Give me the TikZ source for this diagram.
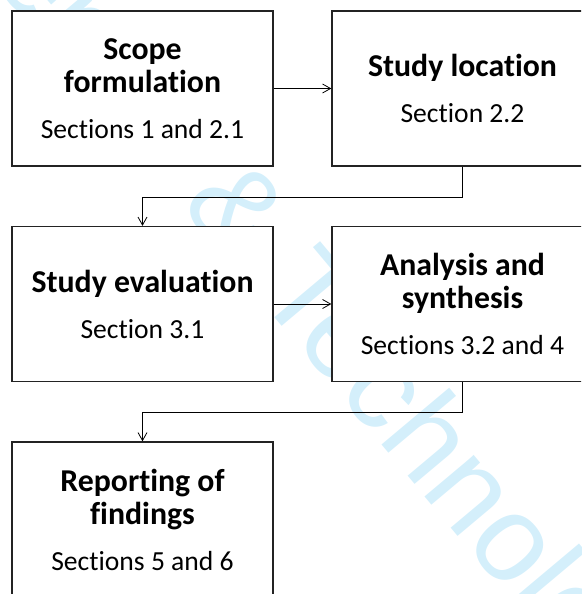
\documentclass[tikz,border=0pt]{standalone}
\usepackage{fontspec}
\setmainfont{Carlito}[Ligatures=NoCommon]
\newfontfamily\wmfont{Liberation Sans}
\usetikzlibrary{arrows.meta}

\definecolor{wmcyan}{RGB}{212,239,251}
\definecolor{boxgray}{RGB}{35,35,35}
\newcommand{\hd}[1]{{\fontsize{31.8}{33}\selectfont\bfseries #1}}

\tikzset{
  stepbox/.style={draw=boxgray, line width=1.3pt, fill=white,
    minimum width=261pt, minimum height=155pt, inner sep=0pt,
    align=center, font=\fontsize{27.6}{33}\selectfont},
  link/.style={line width=0.8pt, -{Straight Barb[length=8pt,width=9pt]}},
  watermark/.style={anchor=base west, rotate=-50, inner sep=0pt, text=wmcyan,
    font=\wmfont\fontsize{122}{122}\selectfont},
}

\begin{document}
\begin{tikzpicture}[x=1pt,y=-1pt]
    \useasboundingbox (0,0) rectangle (581,594);
    \clip (0,0) rectangle (581,594);
    % watermark behind the boxes
    \node[watermark] (wm) at (254,293) {\llap{Science \& }Technology};
    % steps
    \node[stepbox] (scope)      at (142.5,  88.5) {\hd{Scope}\\\hd{formulation}\\[13pt]Sections 1 and 2.1};
    \node[stepbox] (location)   at (462.5,  88.5) {\hd{Study location}\\[13pt]Section 2.2};
    \node[stepbox] (evaluation) at (142.5, 304)   {\hd{Study evaluation}\\[13pt]Section 3.1};
    \node[stepbox] (analysis)   at (462.5, 304)   {\hd{Analysis and}\\\hd{synthesis}\\[13pt]Sections 3.2 and 4};
    \node[stepbox] (reporting)  at (142.5, 519.5) {\hd{Reporting of}\\\hd{findings}\\[13pt]Sections 5 and 6};
    % flow
    \draw (scope) edge[link] (location);
    \draw (evaluation) edge[link] (analysis);
    \draw[link] (location.south) -- ++(0,30.5) -| (evaluation.north);
    \draw[link] (analysis.south) -- ++(0,30) -| (reporting.north);
\end{tikzpicture}
\end{document}
